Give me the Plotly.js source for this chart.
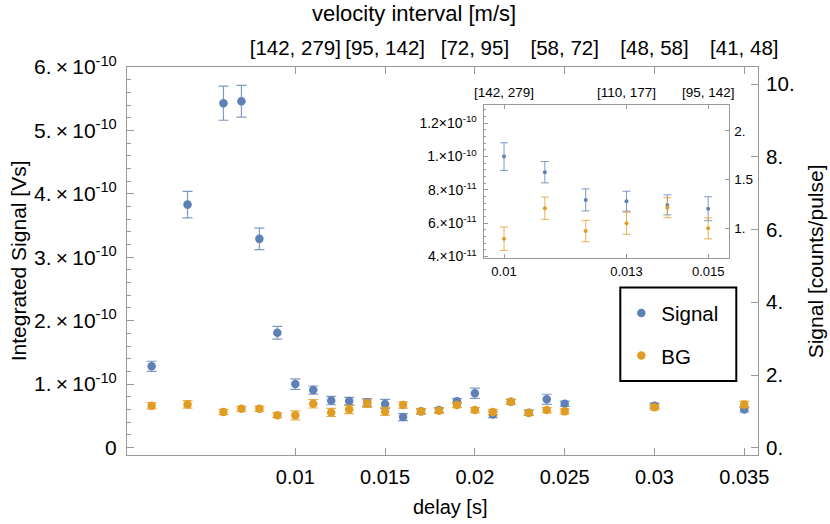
<!DOCTYPE html>
<html>
<head>
<meta charset="utf-8">
<script src="https://cdn.plot.ly/plotly-3.0.1.min.js"></script>
<style>html,body{margin:0;padding:0;background:#fff;}</style>
</head>
<body>
<div id="chart" style="width:830px;height:524px;"></div>
<script>
// ---- data (delay in s, signal in Vs) ----
const delay = [0.002,0.004,0.006,0.007,0.008,0.009,0.010,0.011,0.012,0.013,0.014,0.015,0.016,0.017,0.018,0.019,0.020,0.021,0.022,0.023,0.024,0.025,0.030,0.035];
const signalVals = [1.28e-10,3.83e-10,5.43e-10,5.46e-10,3.29e-10,1.81e-10,1.00e-10,0.906e-10,0.74e-10,0.732e-10,0.71e-10,0.687e-10,0.48e-10,0.57e-10,0.59e-10,0.73e-10,0.855e-10,0.52e-10,0.72e-10,0.55e-10,0.76e-10,0.69e-10,0.66e-10,0.60e-10];
const signalErr = [0.08e-10,0.21e-10,0.27e-10,0.25e-10,0.17e-10,0.10e-10,0.083e-10,0.064e-10,0.066e-10,0.06e-10,0.06e-10,0.072e-10,0.055e-10,0.04e-10,0.04e-10,0.04e-10,0.08e-10,0.05e-10,0.04e-10,0.04e-10,0.08e-10,0.04e-10,0.04e-10,0.04e-10];
const bgVals = [0.66e-10,0.68e-10,0.56e-10,0.61e-10,0.61e-10,0.51e-10,0.507e-10,0.69e-10,0.553e-10,0.60e-10,0.693e-10,0.569e-10,0.67e-10,0.57e-10,0.58e-10,0.67e-10,0.59e-10,0.56e-10,0.72e-10,0.545e-10,0.59e-10,0.57e-10,0.635e-10,0.68e-10];
const bgErr = [0.05e-10,0.06e-10,0.04e-10,0.04e-10,0.04e-10,0.04e-10,0.07e-10,0.067e-10,0.064e-10,0.066e-10,0.06e-10,0.063e-10,0.05e-10,0.04e-10,0.04e-10,0.04e-10,0.04e-10,0.04e-10,0.04e-10,0.04e-10,0.04e-10,0.04e-10,0.04e-10,0.05e-10];

// ---- tick labels ----
const xTickVals = [0.01,0.015,0.02,0.025,0.03,0.035];
const xTickText = ['0.01','0.015','0.02','0.025','0.03','0.035'];
const velocityText = ['[142, 279]','[95, 142]','[72, 95]','[58, 72]','[48, 58]','[41, 48]'];
const yTickVals = [0,1e-10,2e-10,3e-10,4e-10,5e-10,6e-10];
const yTickText = ['0','1.\u2009×\u200910<sup>-10</sup>','2.\u2009×\u200910<sup>-10</sup>','3.\u2009×\u200910<sup>-10</sup>','4.\u2009×\u200910<sup>-10</sup>','5.\u2009×\u200910<sup>-10</sup>','6.\u2009×\u200910<sup>-10</sup>'];
const countsTickVals = [0,2,4,6,8,10];
const countsTickText = ['0.','2.','4.','6.','8.','10.'];

const insetXTickVals = [0.01,0.013,0.015];
const insetXTickText = ['0.01','0.013','0.015'];
const insetVelocityText = ['[142, 279]','[110, 177]','[95, 142]'];
const insetYTickVals = [4e-11,6e-11,8e-11,1e-10,1.2e-10];
const insetYTickText = ['4.×10<sup>-11</sup>','6.×10<sup>-11</sup>','8.×10<sup>-11</sup>','1.×10<sup>-10</sup>','1.2×10<sup>-10</sup>'];
const insetCountsTickVals = [1,1.5,2];
const insetCountsTickText = ['1.','1.5','2.'];

// ---- styling ----
const BLUE = '#5E81B5';
const ORANGE = '#E19C24';
const BLUE_ERR = 'rgba(94,129,181,0.8)';
const ORANGE_ERR = 'rgba(225,156,36,0.8)';
const AX = '#999999';
const FONT = 'Liberation Sans, Arial, sans-serif';

const insetIdx = delay.map((d,i)=>i).filter(i => delay[i] >= 0.0095 && delay[i] <= 0.0155);
const pick = (arr) => insetIdx.map(i => arr[i]);

const traces = [
  {x: delay, y: signalVals, type:'scatter', mode:'markers', name:'Signal', legendgroup:'a',
   marker:{color:BLUE, size:8.5}, error_y:{type:'data', array:signalErr, color:BLUE_ERR, thickness:1.2, width:5},
   xaxis:'x', yaxis:'y', hoverinfo:'skip'},
  {x: delay, y: bgVals, type:'scatter', mode:'markers', name:'BG', legendgroup:'b',
   marker:{color:ORANGE, size:8.5}, error_y:{type:'data', array:bgErr, color:ORANGE_ERR, thickness:1.2, width:5},
   xaxis:'x', yaxis:'y', hoverinfo:'skip'},
  {x: pick(delay), y: pick(signalVals), type:'scatter', mode:'markers', showlegend:false,
   marker:{color:BLUE, size:4}, error_y:{type:'data', array:pick(signalErr), color:BLUE_ERR, thickness:1, width:4},
   xaxis:'x3', yaxis:'y3', hoverinfo:'skip'},
  {x: pick(delay), y: pick(bgVals), type:'scatter', mode:'markers', showlegend:false,
   marker:{color:ORANGE, size:4}, error_y:{type:'data', array:pick(bgErr), color:ORANGE_ERR, thickness:1, width:4},
   xaxis:'x3', yaxis:'y3', hoverinfo:'skip'},
  // carriers for the secondary axes
  {x:[null], y:[null], xaxis:'x2', yaxis:'y', showlegend:false, hoverinfo:'skip', mode:'markers'},
  {x:[null], y:[null], xaxis:'x', yaxis:'y2', showlegend:false, hoverinfo:'skip', mode:'markers'},
  {x:[null], y:[null], xaxis:'x4', yaxis:'y3', showlegend:false, hoverinfo:'skip', mode:'markers'},
  {x:[null], y:[null], xaxis:'x3', yaxis:'y4', showlegend:false, hoverinfo:'skip', mode:'markers'}
];

const L = 126.7, R = 757.7, T = 66.7, B = 455;
const PW = R - L, PH = B - T;
const px = v => (v - L) / PW;
const py = v => (B - v) / PH;

const baseAxis = {showline:true, linecolor:AX, linewidth:1, ticks:'inside', tickcolor:AX, tickwidth:1,
  showgrid:false, zeroline:false, tickmode:'array', fixedrange:true};

const layout = {
  width:830, height:524,
  margin:{l:L, r:830-R, t:T, b:524-B, pad:0},
  paper_bgcolor:'white', plot_bgcolor:'white',
  font:{family:FONT, size:20, color:'black'},
  showlegend:true,
  legend:{x:px(621), y:py(293), xanchor:'left', yanchor:'top', borderwidth:0,
    bgcolor:'rgba(0,0,0,0)', font:{size:20.5, family:FONT}, traceorder:'grouped', tracegroupgap:13},
  shapes:[
    {type:'rect', xref:'paper', yref:'paper', x0:px(620), x1:px(736), y0:py(381), y1:py(287.3),
     line:{color:'black', width:2}, fillcolor:'white', layer:'above'}
  ],
  xaxis:Object.assign({}, baseAxis, {domain:[0,1], anchor:'y', range:[0.000629,0.035763], ticklen:7,
    tickvals:xTickVals, ticktext:xTickText, ticklabelstandoff:4, tickfont:{size:20}}),
  xaxis2:Object.assign({}, baseAxis, {overlaying:'x', side:'top', anchor:'y', range:[0.000629,0.035763], ticklen:7,
    tickvals:xTickVals, ticktext:velocityText, ticklabelstandoff:3, tickfont:{size:20.5}}),
  yaxis:Object.assign({}, baseAxis, {domain:[0,1], anchor:'x', range:[-0.118e-10,6.0e-10], ticklen:7,
    tickvals:yTickVals, ticktext:yTickText, ticklabelstandoff:5, tickfont:{size:21},
    minor:{tickmode:'linear', tick0:0, dtick:2e-11, ticks:'inside', ticklen:4, tickcolor:AX, showgrid:false}}),
  yaxis2:Object.assign({}, baseAxis, {overlaying:'y', side:'right', anchor:'x', range:[-0.2,10.47], ticklen:7,
    tickvals:countsTickVals, ticktext:countsTickText, ticklabelstandoff:3, tickfont:{size:20.5}}),
  xaxis3:Object.assign({}, baseAxis, {domain:[px(483.3), px(728.3)], anchor:'y3', range:[0.0095,0.0155], ticklen:4,
    tickvals:insetXTickVals, ticktext:insetXTickText, tickfont:{size:13}, ticklabelstandoff:2}),
  xaxis4:Object.assign({}, baseAxis, {overlaying:'x3', side:'top', anchor:'y3', range:[0.0095,0.0155], ticklen:4,
    tickvals:insetXTickVals, ticktext:insetVelocityText, tickfont:{size:13.5}, ticklabelstandoff:2}),
  yaxis3:Object.assign({}, baseAxis, {domain:[py(257.7), py(105)], anchor:'x3', range:[3.92e-11,1.308e-10], ticklen:4,
    tickvals:insetYTickVals, ticktext:insetYTickText, tickfont:{size:14}, ticklabelstandoff:3,
    minor:{tickmode:'linear', tick0:0, dtick:4e-12, ticks:'inside', ticklen:2.5, tickcolor:AX, showgrid:false}}),
  yaxis4:Object.assign({}, baseAxis, {overlaying:'y3', side:'right', anchor:'x3', range:[0.695,2.264], ticklen:4,
    tickvals:insetCountsTickVals, ticktext:insetCountsTickText, tickfont:{size:13.5}, ticklabelstandoff:2}),
  annotations:[
    {text:'velocity interval [m/s]', xref:'paper', yref:'paper', x:px(414), y:py(13), xanchor:'center', yanchor:'middle', showarrow:false, font:{size:22}},
    {text:'delay [s]', xref:'paper', yref:'paper', x:px(450), y:py(507), xanchor:'center', yanchor:'middle', showarrow:false, font:{size:20}},
    {text:'Integrated Signal [Vs]', xref:'paper', yref:'paper', x:px(18), y:0.5, xanchor:'center', yanchor:'middle', textangle:-90, showarrow:false, font:{size:21}},
    {text:'Signal [counts/pulse]', xref:'paper', yref:'paper', x:px(815), y:0.5, xanchor:'center', yanchor:'middle', textangle:-90, showarrow:false, font:{size:21}}
  ]
};

Plotly.newPlot('chart', traces, layout, {displayModeBar:false, staticPlot:true});
</script>
</body>
</html>
